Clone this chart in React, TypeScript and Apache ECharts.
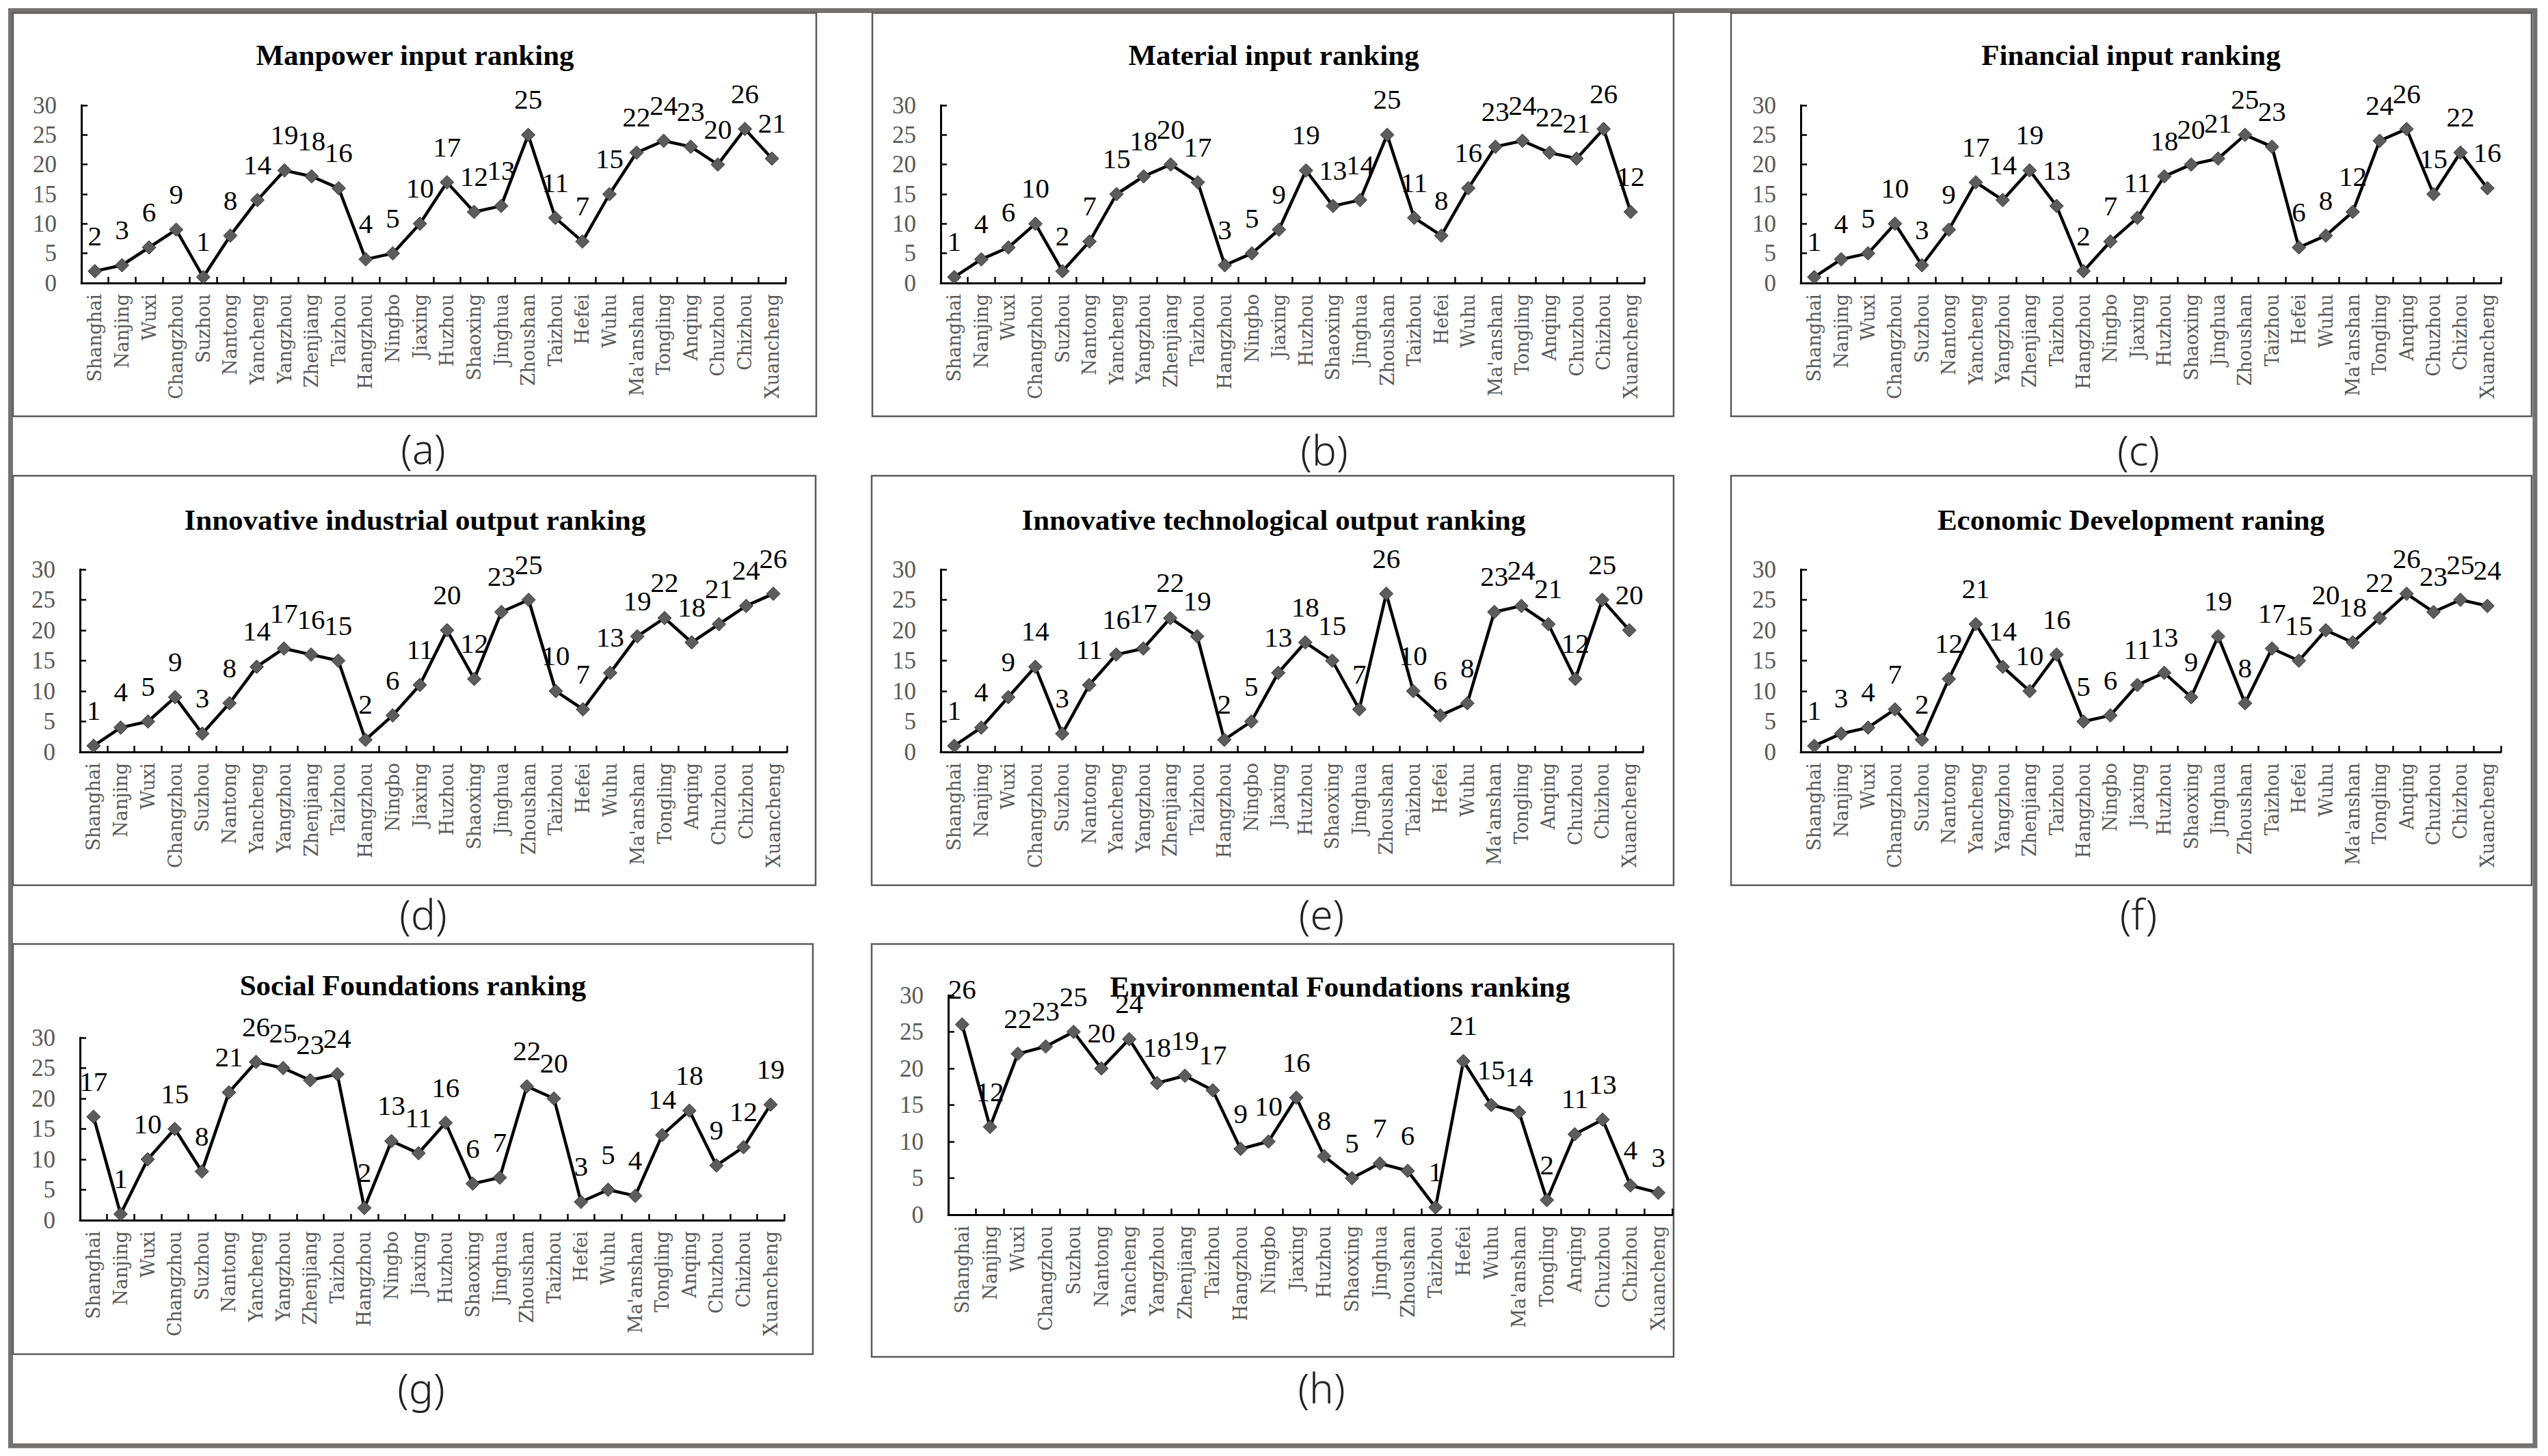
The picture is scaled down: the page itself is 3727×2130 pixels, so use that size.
import React, { useEffect, useRef } from "react";
import * as echarts from "echarts";

const cities = [
  "Shanghai", "Nanjing", "Wuxi", "Changzhou", "Suzhou", "Nantong", "Yancheng",
  "Yangzhou", "Zhenjiang", "Taizhou", "Hangzhou", "Ningbo", "Jiaxing", "Huzhou",
  "Shaoxing", "Jinghua", "Zhoushan", "Taizhou", "Hefei", "Wuhu", "Ma'anshan",
  "Tongling", "Anqing", "Chuzhou", "Chizhou", "Xuancheng",
];

const manpower = [2, 3, 6, 9, 1, 8, 14, 19, 18, 16, 4, 5, 10, 17, 12, 13, 25, 11, 7, 15, 22, 24, 23, 20, 26, 21];
const material = [1, 4, 6, 10, 2, 7, 15, 18, 20, 17, 3, 5, 9, 19, 13, 14, 25, 11, 8, 16, 23, 24, 22, 21, 26, 12];
const financial = [1, 4, 5, 10, 3, 9, 17, 14, 19, 13, 2, 7, 11, 18, 20, 21, 25, 23, 6, 8, 12, 24, 26, 15, 22, 16];
const industrial = [1, 4, 5, 9, 3, 8, 14, 17, 16, 15, 2, 6, 11, 20, 12, 23, 25, 10, 7, 13, 19, 22, 18, 21, 24, 26];
const technological = [1, 4, 9, 14, 3, 11, 16, 17, 22, 19, 2, 5, 13, 18, 15, 7, 26, 10, 6, 8, 23, 24, 21, 12, 25, 20];
const economic = [1, 3, 4, 7, 2, 12, 21, 14, 10, 16, 5, 6, 11, 13, 9, 19, 8, 17, 15, 20, 18, 22, 26, 23, 25, 24];
const social = [17, 1, 10, 15, 8, 21, 26, 25, 23, 24, 2, 13, 11, 16, 6, 7, 22, 20, 3, 5, 4, 14, 18, 9, 12, 19];
const environmental = [26, 12, 22, 23, 25, 20, 24, 18, 19, 17, 9, 10, 16, 8, 5, 7, 6, 1, 21, 15, 14, 2, 11, 13, 4, 3];

const titles = [
  "Manpower input ranking",
  "Material input ranking",
  "Financial input ranking",
  "Innovative industrial output ranking",
  "Innovative technological output ranking",
  "Economic Development raning",
  "Social Foundations ranking",
  "Environmental Foundations ranking",
];
const panelTags = ["(a)", "(b)", "(c)", "(d)", "(e)", "(f)", "(g)", "(h)"];
const seriesList = [manpower, material, financial, industrial, technological, economic, social, environmental];

const yTicks = { min: 0, max: 30, interval: 5 };

// layout (page pixels)
const layout = [
  { box: [19, 19, 1194, 609], grid: [119, 154, 1030, 260], title: [607, 80], tag: [619, 656] },
  { box: [1276, 19, 2448, 609], grid: [1376, 154, 1029, 260], title: [1863, 80], tag: [1937, 658] },
  { box: [2532, 19, 3703, 609], grid: [2634, 154, 1024, 260], title: [3117, 80], tag: [3128, 658] },
  { box: [19, 696, 1193, 1295], grid: [117, 833, 1034, 267], title: [607, 760], tag: [619, 1337] },
  { box: [1275, 696, 2448, 1295], grid: [1376, 833, 1027, 267], title: [1863, 760], tag: [1933, 1337] },
  { box: [2532, 696, 3703, 1295], grid: [2634, 833, 1024, 267], title: [3117, 760], tag: [3128, 1337] },
  { box: [19, 1381, 1189, 1981], grid: [117, 1518, 1030, 267], title: [604, 1441], tag: [616, 2030] },
  { box: [1275, 1381, 2448, 1985], grid: [1387, 1456, 1059, 321], title: [1960, 1443], tag: [1933, 2030] },
];

function buildOption() {
  const grid: any[] = [];
  const xAxis: any[] = [];
  const yAxis: any[] = [];
  const series: any[] = [];
  const graphic: any[] = [];

  graphic.push({
    type: "rect",
    silent: true,
    shape: { x: 15.5, y: 15.5, width: 3692.5, height: 2099.5 },
    style: { fill: "none", stroke: "#767171", lineWidth: 7 },
  });

  layout.forEach((l, i) => {
    const [gx, gy, gw, gh] = l.grid;
    grid.push({ left: gx, top: gy, width: gw, height: gh, containLabel: false });
    xAxis.push({
      gridIndex: i,
      type: "category",
      data: cities,
      boundaryGap: true,
      axisLine: { show: true, lineStyle: { color: "#000", width: 3 } },
      axisTick: { show: true, inside: true, length: 9, interval: 0, lineStyle: { color: "#000", width: 2.5 } },
      axisLabel: {
        rotate: 90,
        interval: 0,
        margin: 16,
        fontFamily: "DejaVu Serif",
        fontSize: 27,
        color: "#595959",
      },
      splitLine: { show: false },
    });
    yAxis.push({
      gridIndex: i,
      type: "value",
      min: yTicks.min,
      max: yTicks.max,
      interval: yTicks.interval,
      splitLine: { show: false },
      axisLine: { show: true, lineStyle: { color: "#000", width: 3 } },
      axisTick: { show: true, inside: true, length: 9, lineStyle: { color: "#000", width: 2.5 } },
      axisLabel: { margin: 36, fontFamily: "Liberation Serif", fontSize: 35, color: "#595959" },
    });
    series.push({
      type: "line",
      xAxisIndex: i,
      yAxisIndex: i,
      data: seriesList[i],
      symbol: "diamond",
      symbolSize: 20,
      showAllSymbol: true,
      lineStyle: { color: "#000", width: 4.5 },
      itemStyle: { color: "#5c5c5c", borderColor: "#333", borderWidth: 1 },
      label: {
        show: true,
        position: "top",
        distance: 21,
        fontFamily: "Liberation Serif",
        fontSize: 41,
        color: "#000",
      },
      emphasis: { disabled: true },
    });

    const [bx1, by1, bx2, by2] = l.box;
    graphic.push({
      type: "rect",
      silent: true,
      shape: { x: bx1, y: by1, width: bx2 - bx1, height: by2 - by1 },
      style: { fill: "none", stroke: "#5a5a5a", lineWidth: 2.5 },
    });
    graphic.push({
      type: "text",
      silent: true,
      x: l.title[0],
      y: l.title[1],
      style: {
        text: titles[i],
        fontFamily: "Liberation Serif",
        fontWeight: "bold",
        fontSize: 43,
        fill: "#000",
        align: "center",
        verticalAlign: "middle",
        textAlign: "center",
        textVerticalAlign: "middle",
      },
      z: 10,
    });
    graphic.push({
      type: "text",
      silent: true,
      x: l.tag[0],
      y: l.tag[1],
      style: {
        text: panelTags[i],
        fontFamily: "Noto Sans",
        fontWeight: 300,
        fontSize: 60,
        fill: "#222",
        align: "center",
        verticalAlign: "middle",
        textAlign: "center",
        textVerticalAlign: "middle",
      },
    });
  });

  return {
    animation: false,
    backgroundColor: "#fff",
    grid,
    xAxis,
    yAxis,
    series,
    graphic,
  };
}

export default function App() {
  const ref = useRef<HTMLDivElement>(null);
  useEffect(() => {
    if (!ref.current) return;
    const chart = echarts.init(ref.current, undefined, { renderer: "svg", width: 3727, height: 2130 });
    chart.setOption(buildOption());
    return () => chart.dispose();
  }, []);
  return (
    <div
      ref={ref}
      style={{ position: "fixed", left: 0, top: 0, width: 3727, height: 2130, background: "#fff" }}
    />
  );
}
